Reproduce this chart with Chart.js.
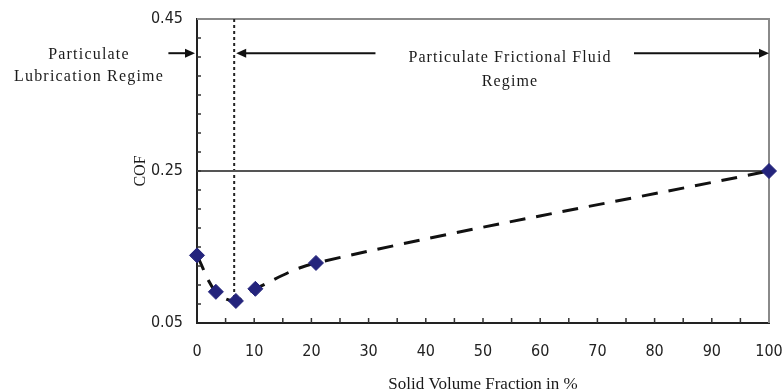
<!DOCTYPE html>
<html>
<head>
<meta charset="utf-8">
<script src="https://cdn.jsdelivr.net/npm/chart.js@4"></script>
<style>
  html, body { margin: 0; padding: 0; background: #fff; }
  #wrap { width: 782px; height: 389px; }
</style>
</head>
<body>
<div id="wrap"><canvas id="cofChart"></canvas></div>
<script>
// solid volume fraction (%) and measured COF
const volumeFraction = [0, 3.3, 6.8, 10.2, 20.8, 100];
const cofValues = [0.139, 0.091, 0.079, 0.095, 0.129, 0.25];

const yTickLabels = ['0.05', '0.25', '0.45'];
const xTickLabels = ['0', '10', '20', '30', '40', '50', '60', '70', '80', '90', '100'];

const regimeBoundary = 6.5;   // % where lubrication regime ends
const referenceCof = 0.25;
const arrowCof = 0.405;

const serif = '"Liberation Serif", "Times New Roman", serif';
const sans = '"DejaVu Sans Condensed", "Liberation Sans", sans-serif';

function arrow(ctx, x1, x2, y) {
  // line from x1 to x2, head at x2
  const dir = x2 > x1 ? 1 : -1;
  ctx.beginPath();
  ctx.moveTo(x1, y);
  ctx.lineTo(x2 - dir * 6, y);
  ctx.stroke();
  ctx.beginPath();
  ctx.moveTo(x2, y);
  ctx.lineTo(x2 - dir * 10, y - 4.5);
  ctx.lineTo(x2 - dir * 10, y + 4.5);
  ctx.closePath();
  ctx.fill();
}

const decor = {
  id: 'decor',
  beforeDatasetsDraw(chart) {
    const { ctx, chartArea: a } = chart;
    ctx.save();
    // top and right frame
    ctx.strokeStyle = '#8a8a8a';
    ctx.lineWidth = 2;
    ctx.beginPath();
    ctx.moveTo(a.left, a.top);
    ctx.lineTo(a.right, a.top);
    ctx.lineTo(a.right, a.bottom);
    ctx.stroke();
    ctx.restore();
  },
  afterDraw(chart) {
    const { ctx, chartArea: a, scales: { x, y } } = chart;
    ctx.save();
    // inner minor ticks
    ctx.strokeStyle = '#333';
    ctx.lineWidth = 1.5;
    ctx.beginPath();
    for (let v = 5; v < 100; v += 5) {
      const px = x.getPixelForValue(v);
      ctx.moveTo(px, a.bottom);
      ctx.lineTo(px, a.bottom - 5);
    }
    for (let k = 1; k < 16; k++) {
      const py = y.getPixelForValue(0.05 + k * 0.025);
      ctx.moveTo(a.left, py);
      ctx.lineTo(a.left + 4, py);
    }
    ctx.stroke();

    // arrows
    ctx.strokeStyle = '#111';
    ctx.fillStyle = '#111';
    ctx.lineWidth = 2;
    const ay = y.getPixelForValue(arrowCof);
    arrow(ctx, x.getPixelForValue(-5), x.getPixelForValue(0) - 2, ay);
    arrow(ctx, x.getPixelForValue(31.2), x.getPixelForValue(regimeBoundary) + 2, ay);
    arrow(ctx, x.getPixelForValue(76.4), x.getPixelForValue(100), ay);

    // regime labels
    ctx.fillStyle = '#1a1a1a';
    ctx.font = '16px ' + serif;
    ctx.letterSpacing = '1.2px';
    ctx.textAlign = 'center';
    ctx.textBaseline = 'middle';
    ctx.fillText('Particulate', 89, 55);
    ctx.fillText('Lubrication Regime', 89, 77);
    ctx.letterSpacing = '1.1px';
    ctx.fillText('Particulate Frictional Fluid', 510, 58);
    ctx.fillText('Regime', 510, 82);
    ctx.restore();
  }
};

new Chart(document.getElementById('cofChart'), {
  type: 'line',
  data: {
    datasets: [{
      data: volumeFraction.map((v, i) => ({ x: v, y: cofValues[i] })),
      borderColor: '#111',
      borderWidth: 3,
      borderDash: [16, 11],
      tension: 0.35,
      pointStyle: 'rectRot',
      pointRadius: 7.5,
      pointBackgroundColor: '#24247c',
      pointBorderColor: '#24247c',
      pointBorderWidth: 1,
      clip: false
    }, {
      data: [{ x: 0, y: referenceCof }, { x: 100, y: referenceCof }],
      borderColor: '#555',
      borderWidth: 2,
      pointRadius: 0
    }, {
      data: [{ x: regimeBoundary, y: 0.45 }, { x: regimeBoundary, y: 0.075 }],
      borderColor: '#222',
      borderWidth: 2,
      borderDash: [3, 3],
      pointRadius: 0
    }]
  },
  options: {
    responsive: true,
    maintainAspectRatio: false,
    animation: false,
    layout: { padding: { left: 130, top: 19, right: 13, bottom: 0 } },
    plugins: { legend: { display: false }, tooltip: { enabled: false } },
    scales: {
      x: {
        type: 'linear',
        min: 0,
        max: 100,
        afterFit(scale) {
          scale.height = 66;
          scale.paddingLeft = 0;
          scale.paddingRight = 0;
        },
        ticks: {
          stepSize: 10,
          padding: 19,
          color: '#222',
          font: { family: sans, size: 16 },
          callback: (v) => xTickLabels.includes(String(v)) ? String(v) : ''
        },
        grid: { drawOnChartArea: false, drawTicks: false },
        border: { color: '#222', width: 2 },
        title: {
          display: true,
          text: 'Solid Volume Fraction in %',
          color: '#1a1a1a',
          font: { family: serif, size: 17 },
          padding: { top: 0, bottom: -6 }
        }
      },
      y: {
        min: 0.05,
        max: 0.45,
        afterFit(scale) {
          scale.width = 67;
          scale.paddingTop = 0;
          scale.paddingBottom = 0;
        },
        ticks: {
          stepSize: 0.2,
          padding: 14,
          color: '#222',
          font: { family: sans, size: 16 },
          callback: (v) => {
            const s = Number(v).toFixed(2);
            return yTickLabels.includes(s) ? s : '';
          }
        },
        grid: { drawOnChartArea: false, drawTicks: false },
        border: { color: '#222', width: 2 },
        title: {
          display: true,
          text: 'COF',
          color: '#1a1a1a',
          font: { family: serif, size: 16 },
          padding: { top: 1, bottom: 0 }
        }
      }
    }
  },
  plugins: [decor]
});
</script>
</body>
</html>
